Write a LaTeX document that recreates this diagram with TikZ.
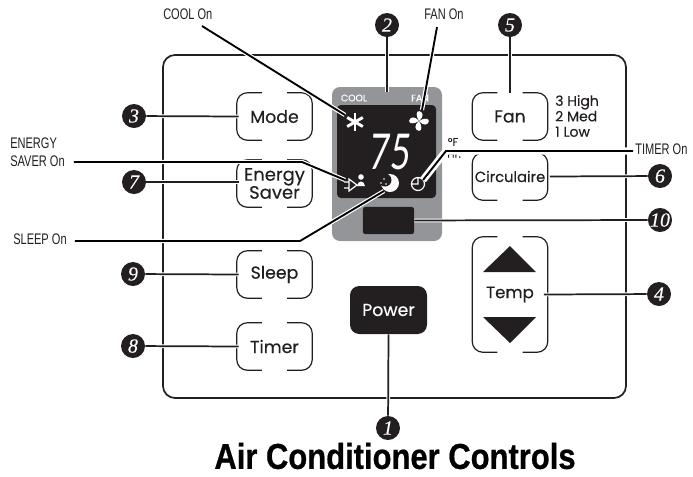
\documentclass[tikz,border=0pt]{standalone}
\usepackage{fontspec}
\setmainfont[FakeBold=0.3]{Poppins}
\newfontfamily\labelfont[FakeStretch=0.72]{Liberation Sans}
\newfontfamily\headfont[FakeStretch=0.86,FakeBold=0.6]{Liberation Sans Bold}
\newfontfamily\dotfont[FakeBold=0.3]{Liberation Serif Italic}
\newfontfamily\lcdfont[FakeSlant=0.1,FakeStretch=0.7]{Lato}
\definecolor{ink}{HTML}{231F20}
\definecolor{bezel}{HTML}{939598}
\tikzset{
  keybox/.style={inner sep=0pt,minimum width=56.25pt,minimum height=35.25pt,align=center,text=ink,font=\fontsize{13}{13.5}\selectfont},
  keyline/.style={ink,line width=0.9pt,rounded corners=8pt},
  numdot/.style={circle,fill=ink,text=white,inner sep=0pt,minimum size=18pt,font=\dotfont\fontsize{15}{15}\selectfont},
  callout/.style={preaction={draw,white,line width=3.2pt},draw=black,line width=1.4pt},
  leader/.style={preaction={draw,white,line width=2.8pt},draw=ink,line width=1.3pt},
  tag/.style={inner sep=0pt,text=ink,align=left,font=\labelfont\fontsize{11.5}{13.5}\selectfont},
  lcdicon/.style={white,line width=0.9pt},
}
\begin{document}
\begin{tikzpicture}[x=0.75pt,y=-0.75pt]
\useasboundingbox (0,0) rectangle (693,476);
\draw[ink,line width=1.3pt,rounded corners=9pt] (163,55) rectangle (626,398);
\fill[bezel,rounded corners=6pt] (332,87) rectangle (442,241);
\fill[ink,rounded corners=3pt] (337,105) rectangle (436,198);
\node[fill=ink,rounded corners=2pt,inner sep=0pt,minimum width=38.5pt,minimum height=20.5pt] (slot) at (388.5,220.5) {};
\node[white,inner sep=0pt,font=\fontsize{7}{7}\selectfont] (cool) at (354,98) {COOL};
\node[white,inner sep=0pt,font=\fontsize{7}{7}\selectfont] (fanlabel) at (420,98) {FAN};
\node[white,inner sep=0pt,font=\lcdfont\fontsize{37}{37}\selectfont] (temp75) at (389,152) {75};
\node[inner sep=0pt,text=ink,font=\fontsize{8.5}{9}\selectfont] (degf) at (453,142) {°F};
\node[inner sep=0pt,text=ink,font=\fontsize{8}{9}\selectfont] (hours) at (454,154) {Hr.};
\foreach \a in {0,60,120}
{\draw[white,line width=2.2pt,rotate around={\a:(355,122)}] (355,113) -- (355,131);}
\foreach \a in {0,90,180,270}
{\fill[white,rotate around={\a-25:(419,121)}] (419,121) .. controls (414,118) and (412,113) .. (415,112) .. controls (419,111) and (422,115) .. (419,121) -- cycle;}
\draw[lcdicon] (349,179) -- (349,191) -- (357,185) -- cycle (344,182) -- (349,182) (344,188) -- (349,188);
\fill[white] (361,177) circle (2.8) (357,186) .. controls (358,180) and (364,180) .. (365,186) -- cycle;
\fill[white] (390,183) circle (9);
\fill[ink] (385,180) circle (6.5);
\fill[white] (384,179) circle (0.9) (381,183) circle (0.9) (386,184) circle (0.9);
\draw[lcdicon] (418,184) circle (6.5) (418,178) -- (418,184) -- (412,184);
\node[keybox] (mode) at (274.5,116.5) {Mode};
\node[keybox,font=\fontsize{13.5}{13.5}\selectfont] (esaver) at (274.5,183.5) {Energy\\Saver};
\node[keybox] (sleep) at (274.5,274.5) {Sleep};
\node[keybox] (timer) at (274.5,346.5) {Timer};
\node[keybox] (fan) at (510,116.5) {Fan};
\node[keybox,font=\fontsize{11}{11}\selectfont] (circ) at (510,176.5) {Circulaire};
\node[keybox,minimum height=86.25pt,font=\fontsize{12.5}{13}\selectfont] (tempkey) at (510,294.5) {Temp};
\node[fill=ink,text=white,rounded corners=7pt,inner sep=0pt,minimum width=57.75pt,minimum height=36pt,font=\fontsize{13}{13}\selectfont] (power) at (388.5,310) {Power};
\foreach \k in {mode,esaver,sleep,timer,fan,circ,tempkey}
{\draw[keyline] ([xshift=-9.4pt]\k.north) -| (\k.west) |- ([xshift=-9.4pt]\k.south);
\draw[keyline] ([xshift=9.4pt]\k.north) -| (\k.east) |- ([xshift=9.4pt]\k.south);}
\fill[ink] (510,246) -- (536,272) -- (483,272) -- cycle;
\fill[ink] (510,343) -- (536,317) -- (483,317) -- cycle;
\node[inner sep=0pt,text=ink,align=left,font=\fontsize{10.5}{11.6}\selectfont,anchor=west] (speeds) at (555,116) {3 High\\2 Med\\1 Low};
\node[numdot] (n1) at (388,428) {1};
\node[numdot] (n2) at (387,25) {2};
\node[numdot] (n3) at (134,116) {3};
\node[numdot] (n4) at (659,294) {4};
\node[numdot] (n5) at (510,25) {5};
\node[numdot] (n6) at (660,176) {6};
\node[numdot] (n7) at (134,182) {7};
\node[numdot] (n8) at (133,346) {8};
\node[numdot] (n9) at (133,274) {9};
\node[numdot] (n10) at (660,220) {10};
\coordinate (bezeltop) at (387,92);
\draw[leader] (n1) -- (power.south);
\draw[leader] (n2) -- (bezeltop);
\draw[leader] (n3) -- ([xshift=1.5pt]mode.west);
\draw[leader] (n4) -- ([xshift=-3pt]tempkey.east);
\draw[leader] (n5) -- (fan.north);
\draw[leader] (n6) -- ([xshift=1.5pt]circ.east);
\draw[leader] (n7) -- ([xshift=1.5pt]esaver.west |- n7);
\draw[leader] (n8) -- ([xshift=1.5pt]timer.west);
\draw[leader] (n9) -- ([xshift=1.5pt]sleep.west);
\draw[leader] (n10) -- (slot);
\node[tag,anchor=west] (tagcool) at (163,14) {COOL On};
\node[tag,anchor=west] (tagfan) at (424,14) {FAN On};
\node[tag,anchor=west] (tagenergy) at (10,152) {ENERGY\\SAVER On};
\node[tag,anchor=west] (tagsleep) at (13,239) {SLEEP On};
\node[tag,anchor=west] (tagtimer) at (635,149) {TIMER On};
\coordinate (coolicon) at (345,115);
\coordinate (fanicon) at (422,110);
\coordinate (plugicon) at (345,180);
\coordinate (moonicon) at (384,191);
\coordinate (clockicon) at (423,180);
\draw[callout] (202,26) -- (coolicon);
\draw[callout] (437,27) -- (fanicon);
\draw[callout] (tagenergy.east |- 0,162) ++(9,0) -- (302,162) -- (plugicon);
\draw[callout] (tagsleep.east |- 0,241) ++(8,0) -- (300,241) -- (moonicon);
\draw[callout,preaction={draw,white,line width=5.5pt}] (tagtimer.west |- 0,151) ++(-2,0) -- (446,151) -- (clockicon);
\node[inner sep=0pt,text=black,font=\headfont\fontsize{27}{27}\selectfont] (title) at (395,456) {Air Conditioner Controls};
\end{tikzpicture}
\end{document}
